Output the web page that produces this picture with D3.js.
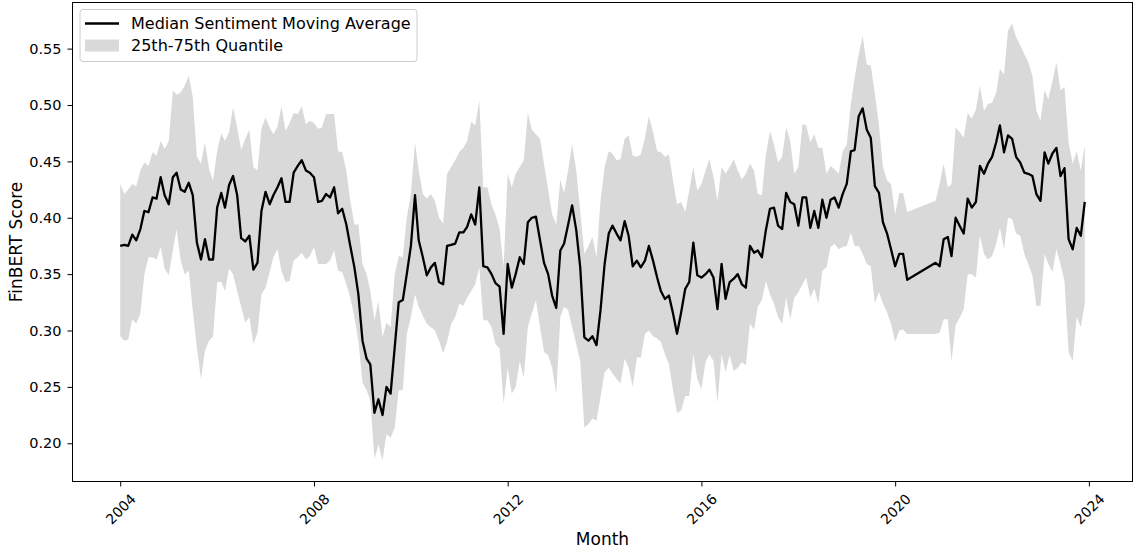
<!DOCTYPE html>
<html>
<head>
<meta charset="utf-8">
<script src="https://cdn.jsdelivr.net/npm/d3@7"></script>
<style>
body { margin: 0; background: #fff; }
svg text { font-family: "DejaVu Sans", sans-serif; fill: #000; }
</style>
</head>
<body>
<svg id="chart" width="1135" height="551"></svg>
<script>
/*
Data (monthly, starting January 2004; null = month missing, line is joined across)
*/
var startYear = 2004;

var median = [
    0.375, 0.376, 0.375, 0.385, 0.380, 0.390, 0.406, 0.405, 0.418, 0.417, 0.436, 0.420,
    0.412, 0.436, 0.440, 0.425, 0.423, 0.431, 0.420, 0.378, 0.363, 0.381, 0.363, 0.363,
    0.409, 0.422, 0.409, 0.429, 0.437, 0.420, 0.382, 0.379, 0.384, 0.354, 0.360, 0.406,
    0.423, 0.412, 0.420, 0.427, 0.435, 0.414, 0.414, 0.440, 0.446, 0.451, 0.442, 0.440,
    0.436, 0.414, 0.415, 0.421, 0.418, 0.427, 0.404, 0.408, 0.394, 0.375, 0.356, 0.332,
    0.291, 0.275, 0.270, 0.227, 0.239, 0.225, 0.250, 0.244, 0.285, 0.325, 0.327, 0.350,
    0.375, 0.420, 0.380, 0.365, 0.349, 0.356, 0.360, 0.343, 0.341, 0.375, 0.376, 0.377,
    0.387, 0.387, 0.392, 0.403, 0.394, 0.427, 0.357, 0.356, 0.350, 0.342, 0.339, 0.297,
    0.359, 0.338, 0.350, 0.365, 0.359, 0.396, 0.400, 0.401, 0.380, 0.360, 0.350, 0.331,
    0.320, 0.371, 0.377, 0.394, 0.411, 0.389, 0.356, 0.294, 0.291, 0.295, 0.287, 0.318,
    0.359, 0.386, 0.393, 0.386, 0.380, 0.397, 0.384, 0.357, 0.362, 0.356, 0.362, 0.375,
    0.362, 0.347, 0.335, 0.328, 0.331, 0.315, 0.297, 0.316, 0.337, 0.343, 0.378, 0.349,
    0.347, 0.350, 0.354, 0.347, 0.319, 0.359, 0.328, 0.343, 0.346, 0.350, 0.341, 0.338,
    0.375, 0.369, 0.371, 0.365, 0.389, 0.408, 0.409, 0.393, 0.390, 0.422, 0.414, 0.412,
    0.393, 0.418, 0.418, 0.391, 0.406, 0.391, 0.416, 0.400, 0.416, 0.418, 0.409, 0.421,
    0.430, 0.459, 0.460, 0.490, 0.497, 0.478, 0.471, 0.428, 0.422, 0.396, 0.386, 0.372,
    0.357, 0.368, 0.368, 0.345, null, null, null, null, null, null, 0.360, 0.357,
    0.381, 0.383, 0.366, 0.400, 0.393, 0.386, 0.417, 0.409, 0.414, 0.446, 0.439, 0.448,
    0.454, 0.467, 0.482, 0.458, 0.473, 0.470, 0.454, 0.449, 0.440, 0.439, 0.437, 0.421,
    0.415, 0.458, 0.448, 0.457, 0.462, 0.437, 0.444, 0.381, 0.372, 0.391, 0.384, 0.414
];

var q75 = [
    0.430, 0.421, 0.425, 0.430, 0.428, 0.442, 0.449, 0.446, 0.458, 0.455, 0.468, 0.461,
    0.468, 0.513, 0.509, 0.511, 0.517, 0.526, 0.507, 0.454, 0.448, 0.467, 0.443, 0.433,
    0.459, 0.475, 0.468, 0.476, 0.498, 0.480, 0.460, 0.470, 0.478, 0.445, 0.442, 0.479,
    0.489, 0.480, 0.474, 0.481, 0.499, 0.477, 0.484, 0.493, 0.492, 0.499, 0.483, 0.486,
    0.484, 0.479, 0.480, 0.492, 0.492, 0.492, 0.459, 0.458, 0.442, 0.415, 0.394, 0.394,
    0.359, 0.350, 0.335, 0.309, 0.326, 0.294, 0.307, 0.303, 0.350, 0.366, 0.365, 0.400,
    0.421, 0.467, 0.442, 0.421, 0.417, 0.421, 0.415, 0.400, 0.395, 0.439, 0.445, 0.451,
    0.458, 0.462, 0.468, 0.485, 0.482, 0.504, 0.427, 0.427, 0.412, 0.403, 0.390, 0.356,
    0.439, 0.427, 0.439, 0.445, 0.451, 0.493, 0.478, 0.474, 0.470, 0.448, 0.425, 0.403,
    0.394, 0.434, 0.422, 0.442, 0.465, 0.442, 0.406, 0.368, 0.375, 0.383, 0.365, 0.415,
    0.445, 0.459, 0.457, 0.451, 0.452, 0.470, 0.473, 0.455, 0.454, 0.456, 0.471, 0.490,
    0.476, 0.459, 0.458, 0.454, 0.456, 0.433, 0.412, 0.414, 0.405, 0.424, 0.445, 0.424,
    0.430, 0.442, 0.452, 0.436, 0.415, 0.445, 0.439, 0.445, 0.452, 0.442, 0.434, 0.439,
    0.448, 0.442, 0.421, 0.420, 0.456, 0.477, 0.465, 0.449, 0.454, 0.480, 0.468, 0.439,
    0.445, 0.483, 0.482, 0.467, 0.474, 0.462, 0.462, 0.439, 0.446, 0.443, 0.439, 0.459,
    0.465, 0.501, 0.524, 0.545, 0.561, 0.536, 0.535, 0.510, 0.482, 0.445, 0.433, 0.430,
    0.403, 0.422, 0.422, 0.405, null, null, null, null, null, null, 0.415, 0.430,
    0.448, 0.427, 0.430, 0.480, 0.476, 0.471, 0.493, 0.488, 0.496, 0.517, 0.495, 0.501,
    0.502, 0.511, 0.532, 0.527, 0.566, 0.572, 0.560, 0.553, 0.545, 0.538, 0.526, 0.495,
    0.486, 0.513, 0.505, 0.521, 0.538, 0.513, 0.516, 0.467, 0.448, 0.459, 0.442, 0.464
];

var q25 = [
    0.295, 0.291, 0.292, 0.310, 0.306, 0.315, 0.350, 0.365, 0.365, 0.363, 0.374, 0.355,
    0.349, 0.371, 0.390, 0.362, 0.350, 0.353, 0.318, 0.285, 0.257, 0.282, 0.291, 0.295,
    0.343, 0.343, 0.335, 0.355, 0.350, 0.335, 0.321, 0.307, 0.312, 0.288, 0.298, 0.332,
    0.338, 0.352, 0.365, 0.372, 0.353, 0.343, 0.344, 0.362, 0.365, 0.369, 0.363, 0.366,
    0.374, 0.359, 0.359, 0.359, 0.362, 0.371, 0.353, 0.352, 0.341, 0.329, 0.312, 0.291,
    0.254, 0.247, 0.238, 0.186, 0.199, 0.185, 0.208, 0.205, 0.214, 0.247, 0.247, 0.297,
    0.312, 0.332, 0.321, 0.313, 0.306, 0.303, 0.300, 0.291, 0.280, 0.290, 0.306, 0.312,
    0.324, 0.322, 0.329, 0.335, 0.341, 0.356, 0.309, 0.309, 0.303, 0.288, 0.284, 0.235,
    0.267, 0.244, 0.250, 0.273, 0.258, 0.303, 0.315, 0.327, 0.303, 0.281, 0.278, 0.267,
    0.244, 0.312, 0.321, 0.318, 0.303, 0.288, 0.273, 0.214, 0.217, 0.222, 0.220, 0.241,
    0.263, 0.267, 0.262, 0.257, 0.253, 0.275, 0.267, 0.250, 0.276, 0.276, 0.297, 0.300,
    0.295, 0.293, 0.290, 0.279, 0.270, 0.247, 0.227, 0.229, 0.242, 0.242, 0.279, 0.257,
    0.248, 0.272, 0.279, 0.273, 0.236, 0.279, 0.263, 0.278, 0.264, 0.267, 0.272, 0.269,
    0.306, 0.301, 0.321, 0.327, 0.344, 0.332, 0.324, 0.312, 0.306, 0.329, 0.310, 0.329,
    0.334, 0.341, 0.347, 0.329, 0.337, 0.324, 0.353, 0.356, 0.374, 0.377, 0.372, 0.374,
    0.375, 0.387, 0.375, 0.375, 0.368, 0.359, 0.357, 0.324, 0.334, 0.324, 0.316, 0.306,
    0.290, 0.300, 0.301, 0.297, null, null, null, null, null, null, 0.297, 0.298,
    0.310, 0.310, 0.273, 0.305, 0.311, 0.319, 0.350, 0.350, 0.347, 0.384, 0.368, 0.363,
    0.366, 0.377, 0.391, 0.372, 0.400, 0.399, 0.386, 0.384, 0.368, 0.359, 0.349, 0.322,
    0.322, 0.368, 0.359, 0.352, 0.372, 0.359, 0.344, 0.281, 0.273, 0.312, 0.303, 0.324
];

var yTicks = [0.20, 0.25, 0.30, 0.35, 0.40, 0.45, 0.50, 0.55];
var xTickYears = [2004, 2008, 2012, 2016, 2020, 2024];

var lineLabel = "Median Sentiment Moving Average";
var bandLabel = "25th-75th Quantile";
var xTitle = "Month";
var yTitle = "FinBERT Score";

/*
Layout
*/
var width = 1135, height = 551;
var margin = { top: 2, right: 2, bottom: 69, left: 72 };
var bandColor = "#d9d9d9";

var svg = d3.select("#chart");

// one row per month that has data
var rows = median.map(function (v, i) {
    return { date: new Date(startYear, i, 1), mid: v, lo: q25[i], hi: q75[i] };
}).filter(function (d) { return d.mid !== null; });

// matplotlib-like 5% margins on both axes
var t0 = rows[0].date.getTime();
var t1 = rows[rows.length - 1].date.getTime();
var tPad = (t1 - t0) * 0.05;
var x = d3.scaleTime()
    .domain([new Date(t0 - tPad), new Date(t1 + tPad)])
    .range([margin.left, width - margin.right]);

var yMin = d3.min(rows, function (d) { return d.lo; });
var yMax = d3.max(rows, function (d) { return d.hi; });
var yPad = (yMax - yMin) * 0.05;
var y = d3.scaleLinear()
    .domain([yMin - yPad, yMax + yPad])
    .range([height - margin.bottom, margin.top]);

/*
Marks
*/
var band = d3.area()
    .x(function (d) { return x(d.date); })
    .y0(function (d) { return y(d.lo); })
    .y1(function (d) { return y(d.hi); });

var line = d3.line()
    .x(function (d) { return x(d.date); })
    .y(function (d) { return y(d.mid); });

svg.append("path")
    .datum(rows)
    .attr("d", band)
    .attr("fill", bandColor);

svg.append("path")
    .datum(rows)
    .attr("d", line)
    .attr("fill", "none")
    .attr("stroke", "#000")
    .attr("stroke-width", 2.3)
    .attr("stroke-linejoin", "round");

/*
Axes
*/
var yAxis = svg.append("g")
    .attr("transform", "translate(" + margin.left + ",0)")
    .call(d3.axisLeft(y)
        .tickValues(yTicks)
        .tickFormat(d3.format(".2f"))
        .tickSize(4.5)
        .tickPadding(6));
yAxis.select(".domain").remove();
yAxis.selectAll("text").attr("font-size", 14.5).attr("font-family", "DejaVu Sans");

var xAxis = svg.append("g")
    .attr("transform", "translate(0," + (height - margin.bottom) + ")")
    .call(d3.axisBottom(x)
        .tickValues(xTickYears.map(function (yr) { return new Date(yr, 0, 1); }))
        .tickFormat(d3.timeFormat("%Y"))
        .tickSize(4.5));
xAxis.select(".domain").remove();
xAxis.selectAll("text")
    .attr("y", null)
    .attr("dy", null)
    .attr("font-size", 14)
    .attr("font-family", "DejaVu Sans")
    .attr("text-anchor", "middle")
    .attr("dominant-baseline", "central")
    .attr("transform", "translate(0,27) rotate(-45)");

svg.selectAll(".tick line").attr("stroke", "#000").attr("stroke-width", 1);

// frame round the plot
svg.append("rect")
    .attr("x", margin.left + 0.5)
    .attr("y", margin.top + 0.5)
    .attr("width", width - margin.left - margin.right - 1)
    .attr("height", height - margin.top - margin.bottom - 1)
    .attr("fill", "none")
    .attr("stroke", "#000")
    .attr("stroke-width", 1);

// axis titles
svg.append("text")
    .attr("x", (margin.left + width - margin.right) / 2)
    .attr("y", 545)
    .attr("text-anchor", "middle")
    .attr("font-size", 17)
    .text(xTitle);

svg.append("text")
    .attr("transform", "translate(16," + ((margin.top + height - margin.bottom) / 2) + ") rotate(-90)")
    .attr("text-anchor", "middle")
    .attr("dominant-baseline", "central")
    .attr("font-size", 17)
    .text(yTitle);

/*
Legend
*/
var legend = svg.append("g").attr("transform", "translate(80,9.5)");

legend.append("rect")
    .attr("width", 337)
    .attr("height", 52)
    .attr("rx", 3)
    .attr("fill", "#fff")
    .attr("fill-opacity", 0.8)
    .attr("stroke", "#cccccc");

legend.append("line")
    .attr("x1", 5).attr("x2", 39)
    .attr("y1", 14).attr("y2", 14)
    .attr("stroke", "#000")
    .attr("stroke-width", 2.3);

legend.append("rect")
    .attr("x", 5).attr("y", 30)
    .attr("width", 34).attr("height", 12)
    .attr("fill", bandColor);

legend.selectAll("text.lab")
    .data([lineLabel, bandLabel])
    .enter().append("text")
    .attr("class", "lab")
    .attr("x", 51)
    .attr("y", function (d, i) { return 14 + i * 22; })
    .attr("dominant-baseline", "central")
    .attr("font-size", 16)
    .text(function (d) { return d; });
</script>
</body>
</html>
